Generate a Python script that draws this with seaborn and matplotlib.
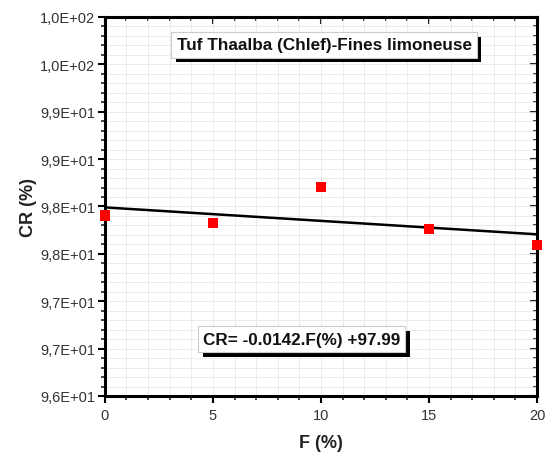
import numpy as np
import pandas as pd
import matplotlib
matplotlib.use("Agg")
import matplotlib.pyplot as plt
import matplotlib.patheffects as pe
from matplotlib.ticker import MultipleLocator
import seaborn as sns

# data
F = [0, 5, 10, 15, 20]
CR = [97.906, 97.825, 98.202, 97.759, 97.592]
fit_slope = -0.0142
fit_intercept = 97.99

x_ticks = [0, 5, 10, 15, 20]
y_ticks = [96.0, 96.5, 97.0, 97.5, 98.0, 98.5, 99.0, 99.5, 100.0]
y_tick_labels = ['9,6E+01', '9,7E+01', '9,7E+01', '9,8E+01', '9,8E+01',
                 '9,9E+01', '9,9E+01', '1,0E+02', '1,0E+02']

title_txt = 'Tuf Thaalba (Chlef)-Fines limoneuse'
eq_txt = 'CR= -0.0142.F(%) +97.99'

df = pd.DataFrame({'F': F, 'CR': CR})
df_fit = pd.DataFrame({'F': [F[0], F[-1]]})
df_fit['CR'] = fit_slope * df_fit['F'] + fit_intercept

sns.set_style('white')
plt.rcParams['font.family'] = ['Liberation Sans', 'DejaVu Sans']

fig = plt.figure(figsize=(5.52, 4.6), dpi=100)
ax = fig.add_axes([0.190, 0.137, 0.783, 0.824])

sns.lineplot(data=df_fit, x='F', y='CR', color='black', linewidth=1.8, ax=ax, zorder=3)
sns.scatterplot(data=df, x='F', y='CR', marker='s', s=55, color='#ff0000',
                edgecolor='none', ax=ax, zorder=4, clip_on=False)

ax.set_xlim(0, 20)
ax.set_ylim(96, 100)
ax.set_xticks(x_ticks)
ax.set_xticklabels([str(v) for v in x_ticks])
ax.set_yticks(y_ticks)
ax.set_yticklabels(y_tick_labels)
ax.xaxis.set_minor_locator(MultipleLocator(1))
ax.yaxis.set_minor_locator(MultipleLocator(0.1))

ax.grid(which='both', color='#e8e8e8', linewidth=0.6)
ax.set_axisbelow(True)

for s in ax.spines.values():
    s.set_linewidth(2.2)
    s.set_color('black')

ax.tick_params(which='major', direction='out', length=5, width=1.5,
               labelsize=10.5, colors='black', left=True, bottom=True)
ax.tick_params(which='minor', direction='out', length=3, width=1.2,
               left=True, bottom=True)
ax.tick_params(axis='x', pad=4, labelcolor='#333333')
ax.tick_params(axis='y', pad=2, labelcolor='#333333')

# mirrored ticks pointing inward on top and right
top = ax.secondary_xaxis('top')
top.set_xticks(x_ticks)
top.xaxis.set_minor_locator(MultipleLocator(1))
top.tick_params(which='major', direction='in', length=5, width=1.5, labeltop=False)
top.tick_params(which='minor', direction='in', length=3, width=1.2)
right = ax.secondary_yaxis('right')
right.set_yticks(y_ticks)
right.yaxis.set_minor_locator(MultipleLocator(0.1))
right.tick_params(which='major', direction='in', length=5, width=1.5, labelright=False)
right.tick_params(which='minor', direction='in', length=3, width=1.2)

ax.set_xlabel('F (%)', fontsize=13, fontweight='bold', labelpad=8, color='#222222')
ax.set_ylabel('CR (%)', fontsize=13, fontweight='bold', labelpad=2, color='#222222')

shadow = [pe.SimplePatchShadow(offset=(3.5, -3.5), shadow_rgbFace='black', alpha=1), pe.Normal()]
for txt, xy in [(title_txt, (0.507, 0.926)), (eq_txt, (0.455, 0.150))]:
    t = ax.text(xy[0], xy[1], txt, transform=ax.transAxes, ha='center', va='center',
                fontsize=12.3, fontweight='bold', color='#111111', zorder=6,
                bbox=dict(boxstyle='square,pad=0.3', facecolor='white',
                          edgecolor='#cccccc', linewidth=0.8))
    t.get_bbox_patch().set_path_effects(shadow)

fig.savefig('out.png', dpi=100)
